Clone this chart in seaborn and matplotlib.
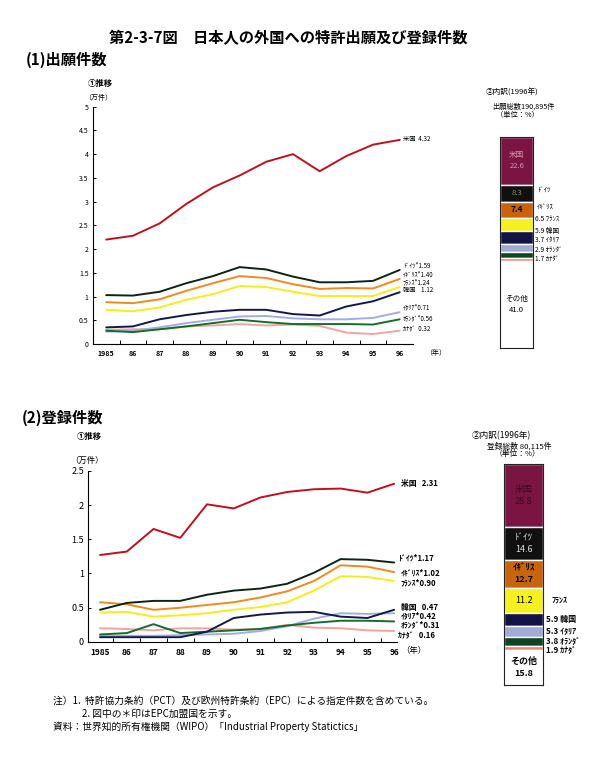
import matplotlib
matplotlib.use("Agg")
import matplotlib.pyplot as plt
import seaborn as sns
import numpy as np
import pandas as pd

sns.set_theme(style="white")
plt.rcParams["font.family"] = ["Noto Sans CJK JP", "DejaVu Sans"]
plt.rcParams["text.color"] = "black"
plt.rcParams["xtick.color"] = "black"
plt.rcParams["ytick.color"] = "black"

years = list(range(1985, 1997))
year_labels = ["1985"] + [f"{y % 100}" for y in years[1:]]
countries = ["米国", "ドイツ", "イギリス", "フランス", "韓国", "イタリア", "オランダ", "カナダ"]

# (1) 出願件数 (万件)
app_us = [2.20, 2.28, 2.54, 2.95, 3.30, 3.55, 3.84, 4.00, 3.64, 3.96, 4.20, 4.30]
app_de = [1.03, 1.02, 1.10, 1.28, 1.43, 1.62, 1.57, 1.42, 1.30, 1.30, 1.33, 1.56]
app_uk = [0.88, 0.86, 0.94, 1.12, 1.28, 1.43, 1.39, 1.26, 1.16, 1.18, 1.17, 1.37]
app_fr = [0.72, 0.69, 0.77, 0.93, 1.05, 1.22, 1.20, 1.10, 1.01, 1.01, 1.01, 1.20]
app_kr = [0.35, 0.37, 0.52, 0.61, 0.68, 0.72, 0.72, 0.63, 0.60, 0.79, 0.90, 1.09]
app_it = [0.26, 0.28, 0.35, 0.44, 0.51, 0.58, 0.59, 0.54, 0.52, 0.52, 0.55, 0.67]
app_nl = [0.28, 0.25, 0.31, 0.37, 0.44, 0.51, 0.46, 0.42, 0.42, 0.42, 0.41, 0.52]
app_ca = [0.30, 0.31, 0.31, 0.37, 0.39, 0.42, 0.39, 0.41, 0.38, 0.24, 0.21, 0.28]

# (2) 登録件数 (万件)
reg_us = [1.27, 1.32, 1.65, 1.52, 2.01, 1.95, 2.11, 2.19, 2.23, 2.24, 2.18, 2.31]
reg_de = [0.47, 0.57, 0.60, 0.60, 0.69, 0.75, 0.78, 0.85, 1.01, 1.21, 1.20, 1.16]
reg_uk = [0.58, 0.55, 0.47, 0.50, 0.54, 0.58, 0.65, 0.74, 0.89, 1.12, 1.10, 1.02]
reg_fr = [0.43, 0.44, 0.37, 0.39, 0.42, 0.47, 0.51, 0.58, 0.75, 0.96, 0.95, 0.89]
reg_kr = [0.07, 0.07, 0.07, 0.07, 0.15, 0.35, 0.40, 0.43, 0.44, 0.37, 0.35, 0.47]
reg_it = [0.09, 0.09, 0.09, 0.10, 0.11, 0.12, 0.16, 0.23, 0.34, 0.42, 0.41, 0.42]
reg_nl = [0.11, 0.13, 0.26, 0.13, 0.15, 0.17, 0.19, 0.24, 0.28, 0.31, 0.31, 0.30]
reg_ca = [0.20, 0.19, 0.17, 0.20, 0.20, 0.18, 0.19, 0.25, 0.21, 0.20, 0.17, 0.16]

# ② 内訳 (1996年, %)
seg_names = ["米国", "ドイツ", "イギリス", "フランス", "韓国", "イタリア", "オランダ", "カナダ", "その他"]
app_share = [22.6, 8.3, 7.4, 6.5, 5.9, 3.7, 2.9, 1.7, 41.0]
reg_share = [28.8, 14.6, 12.7, 11.2, 5.9, 5.3, 3.8, 1.9, 15.8]

line_colors = {"米国": "#c0101c", "ドイツ": "#0c2414", "イギリス": "#f08a1c", "フランス": "#f4ee1c",
               "韓国": "#101a4a", "イタリア": "#a4ace4", "オランダ": "#10702a", "カナダ": "#f4a4a0"}
seg_colors = ["#7a1440", "#101010", "#c8640c", "#f6f020", "#121444", "#a2aad6", "#0e4422", "#f08272", "#ffffff"]
draw_order = ["カナダ", "イタリア", "オランダ", "韓国", "フランス", "イギリス", "ドイツ", "米国"]


def long_frame(series):
    rows = []
    for name, vals in zip(countries, series):
        for y, v in zip(years, vals):
            rows.append({"year": y, "value": v, "country": name})
    return pd.DataFrame(rows)


def draw_lines(ax, df, xlim, ylim, ystep, tick_fs, year_fs):
    sns.lineplot(data=df, x="year", y="value", hue="country", hue_order=draw_order,
                 palette=line_colors, linewidth=1.4, legend=False, ax=ax)
    ax.set_xlim(*xlim)
    ax.set_ylim(*ylim)
    ax.set_xlabel("")
    ax.set_ylabel("")
    ax.set_xticks(years)
    ax.set_xticklabels(year_labels, fontsize=year_fs, fontweight="bold")
    ax.set_xticks([y + 0.5 for y in years[:-1]], minor=True)
    ticks = np.arange(0, ylim[1] + 0.01, ystep)
    ax.set_yticks(ticks)
    ax.set_yticklabels([f"{t:g}" for t in ticks])
    ax.tick_params(axis="x", which="major", length=0, pad=4)
    ax.tick_params(axis="x", which="minor", length=3, direction="in", width=0.7, color="black", bottom=True)
    ax.tick_params(axis="y", length=2, direction="in", width=0.7, labelsize=tick_fs, pad=3, color="black", left=True)
    for s in ["top", "right"]:
        ax.spines[s].set_visible(False)
    for s in ["left", "bottom"]:
        ax.spines[s].set_color("black")
        ax.spines[s].set_linewidth(0.8)


def draw_share(ax, shares, inner, side, side_fs, side_weight):
    cum = np.concatenate([[0], np.cumsum(shares)[:-1]])
    ax.bar(0, shares, bottom=cum, width=1.0, color=seg_colors, edgecolor="white", linewidth=1.0)
    ax.set_xlim(-0.5, 0.5)
    ax.set_ylim(100, 0)
    ax.set_xticks([])
    ax.set_yticks([])
    for s in ax.spines.values():
        s.set_color("#222222")
        s.set_linewidth(0.8)
    centers = cum + np.array(shares) / 2
    for idx, text, color, weight, fs in inner:
        ax.text(0, centers[idx], text, ha="center", va="center", color=color,
                fontsize=fs, fontweight=weight, linespacing=1.4)
    for idx, text, ypos, xpos in side:
        ax.text(xpos, ypos if ypos is not None else centers[idx], text, ha="left", va="center",
                fontsize=side_fs, fontweight=side_weight,
                transform=ax.get_yaxis_transform(), clip_on=False)


fig = plt.figure(figsize=(6.03, 7.73), dpi=100)
fig.patch.set_facecolor("white")

# titles
fig.text(0.478, 0.951, "第2-3-7図　日本人の外国への特許出願及び登録件数", ha="center", va="center",
         fontsize=11, fontweight="bold")
fig.text(0.043, 0.922, "(1)出願件数", ha="left", va="center", fontsize=11, fontweight="bold")
fig.text(0.036, 0.459, "(2)登録件数", ha="left", va="center", fontsize=11, fontweight="bold")

# top line chart
ax1 = fig.add_axes([0.154, 0.555, 0.531, 0.307])
draw_lines(ax1, long_frame([app_us, app_de, app_uk, app_fr, app_kr, app_it, app_nl, app_ca]),
           (1984.5, 1996.5), (0, 5), 0.5, 5, 5)
fig.text(0.145, 0.892, "①推移", fontsize=6, fontweight="bold", ha="left", va="center")
fig.text(0.140, 0.873, "（万件）", fontsize=5, ha="left", va="center")
fig.text(0.705, 0.543, "（年）", fontsize=5, ha="left", va="center")
top_labels = [("米国  4.32", 4.32), ("ﾄﾞｲﾂ*1.59", 1.64), ("ｲｷﾞﾘｽ*1.40", 1.45), ("ﾌﾗﾝｽ*1.24", 1.30),
              ("韓国    1.12", 1.13), ("ｲﾀﾘｱ*0.71", 0.78), ("ｵﾗﾝﾀﾞ*0.56", 0.55), ("ｶﾅﾀﾞ  0.32", 0.32)]
for text, yv in top_labels:
    ax1.text(1996.12, yv, text, fontsize=4.5, ha="left", va="center", clip_on=False)

# bottom line chart
ax2 = fig.add_axes([0.146, 0.1695, 0.512, 0.2215])
draw_lines(ax2, long_frame([reg_us, reg_de, reg_uk, reg_fr, reg_kr, reg_it, reg_nl, reg_ca]),
           (1984.55, 1996.1), (0, 2.5), 0.5, 6.5, 6)
fig.text(0.128, 0.436, "①推移", fontsize=6, fontweight="bold", ha="left", va="center")
fig.text(0.117, 0.405, "（万件）", fontsize=6, ha="left", va="center")
fig.text(0.666, 0.158, "（年）", fontsize=6, ha="left", va="center")
bot_labels = [("米国   2.31", 2.32, 1996.25), ("ﾄﾞｲﾂ*1.17", 1.23, 1996.15), ("ｲｷﾞﾘｽ*1.02", 1.01, 1996.25),
              ("ﾌﾗﾝｽ*0.90", 0.86, 1996.25), ("韓国   0.47", 0.50, 1996.25), ("ｲﾀﾘｱ*0.42", 0.38, 1996.25),
              ("ｵﾗﾝﾀﾞ*0.31", 0.25, 1996.25), ("ｶﾅﾀﾞ   0.16", 0.09, 1996.15)]
for text, yv, xv in bot_labels:
    ax2.text(xv, yv, text, fontsize=5.6, ha="left", va="center", clip_on=False, fontweight="bold")

# top share bar
ax3 = fig.add_axes([0.830, 0.550, 0.054, 0.273])
draw_share(ax3, app_share,
           [(0, "米国\n22.6", "#d89aae", "normal", 5.5), (1, "8.3", "#8a8a5a", "normal", 5.5),
            (2, "7.4", "black", "bold", 6), (8, "その他\n41.0", "black", "normal", 5.5)],
           [(1, "ﾄﾞｲﾂ", 25.3, 1.12), (2, "ｲｷﾞﾘｽ", 33.3, 1.12), (3, "6.5 ﾌﾗﾝｽ", 38.9, 1.05),
            (4, "5.9 韓国", 44.5, 1.05), (5, "3.7 ｲﾀﾘｱ", 49.0, 1.05), (6, "2.9 ｵﾗﾝﾀﾞ", 54.0, 1.05),
            (7, "1.7 ｶﾅﾀﾞ", 58.1, 1.05)],
           4.8, "normal")
fig.text(0.805, 0.880, "②内訳(1996年)", fontsize=5.5, ha="left", va="center")
fig.text(0.816, 0.862, "出願総数190,895件", fontsize=5.2, ha="left", va="center")
fig.text(0.822, 0.851, "（単位：%）", fontsize=5.2, ha="left", va="center")

# bottom share bar
ax4 = fig.add_axes([0.836, 0.114, 0.065, 0.286])
draw_share(ax4, reg_share,
           [(0, "米国\n28.8", "#3a0c1c", "normal", 6.5), (1, "ﾄﾞｲﾂ\n14.6", "#d8e8d8", "normal", 6.5),
            (2, "ｲｷﾞﾘｽ\n12.7", "black", "bold", 6.5), (3, "11.2", "black", "normal", 6.5),
            (8, "その他\n15.8", "black", "bold", 6.5)],
           [(3, "ﾌﾗﾝｽ", None, 1.2), (4, "5.9 韓国", 70.3, 1.08), (5, "5.3 ｲﾀﾘｱ", 75.6, 1.08),
            (6, "3.8 ｵﾗﾝﾀﾞ", 80.2, 1.08), (7, "1.9 ｶﾅﾀﾞ", 84.3, 1.08)],
           5.8, "bold")
fig.text(0.783, 0.437, "②内訳(1996年)", fontsize=6.2, ha="left", va="center")
fig.text(0.808, 0.423, "登録総数 80,115件", fontsize=5.6, ha="left", va="center")
fig.text(0.820, 0.413, "（単位：%）", fontsize=5.6, ha="left", va="center")

# notes
fig.text(0.088, 0.094, "注）1.  特許協力条約（PCT）及び欧州特許条約（EPC）による指定件数を含めている。",
         fontsize=7, ha="left", va="center")
fig.text(0.136, 0.077, "2. 図中の＊印はEPC加盟国を示す。", fontsize=7, ha="left", va="center")
fig.text(0.088, 0.060, "資料：世界知的所有権機関（WIPO）「Industrial Property Statictics」",
         fontsize=7, ha="left", va="center")

fig.savefig("out.png", dpi=100, facecolor="white")
